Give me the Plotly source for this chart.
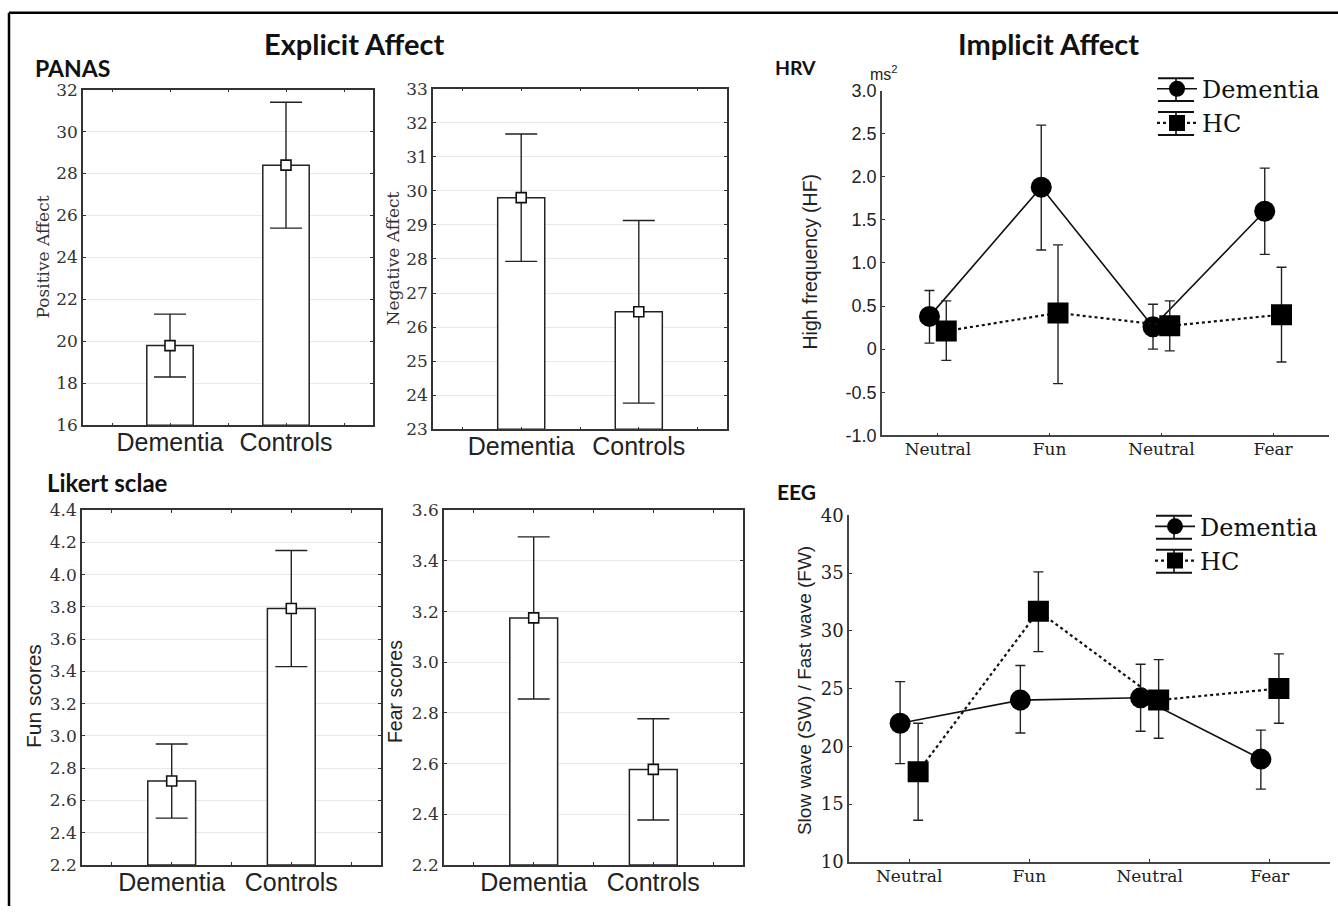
import plotly.graph_objects as go

W, H = 1338, 916
# the renderer places the figure with a small vertical offset/scale; compensate
YOFF, YSC = 10.3, 0.978

# ---------------- data ----------------
groups = ["Dementia", "Controls"]

panas_pos_mean = [19.8, 28.4]
panas_pos_err = [1.5, 3.0]
panas_neg_mean = [29.8, 26.45]
panas_neg_err = [1.87, 2.68]

likert_fun_mean = [2.72, 3.79]
likert_fun_err = [0.23, 0.36]
likert_fear_mean = [3.175, 2.577]
likert_fear_err = [0.32, 0.20]

conditions = ["Neutral", "Fun", "Neutral", "Fear"]
series = ["Dementia", "HC"]

hrv_dem = [0.38, 1.88, 0.26, 1.60]
hrv_dem_hi = [0.68, 2.60, 0.52, 2.10]
hrv_dem_lo = [0.07, 1.15, 0.00, 1.10]
hrv_hc = [0.21, 0.42, 0.27, 0.40]
hrv_hc_hi = [0.56, 1.21, 0.56, 0.95]
hrv_hc_lo = [-0.13, -0.40, -0.02, -0.15]

eeg_dem = [22.0, 24.0, 24.2, 18.9]
eeg_dem_hi = [25.6, 27.0, 27.1, 21.4]
eeg_dem_lo = [18.5, 21.15, 21.3, 16.3]
eeg_hc = [17.8, 31.7, 24.0, 25.0]
eeg_hc_hi = [22.0, 35.1, 27.5, 28.0]
eeg_hc_lo = [13.6, 28.2, 20.7, 22.0]

# ---------------- helpers ----------------
SERIF = "DejaVu Serif"
SANS = "Liberation Sans"
TITLE = "Lato"


def px_x(x):
    return x / W


def px_y(y):
    return 1 - ((y - YOFF) / YSC) / H


fig = go.Figure()

bar_panels = [
    # axis id, means, errs, yrange, dtick, box px (x0,x1,ytop,ybottom)
    ("", panas_pos_mean, panas_pos_err, [16, 32], 2, (83, 373, 89, 425)),
    ("2", panas_neg_mean, panas_neg_err, [23, 33], 1, (433, 727, 88, 429)),
    ("3", likert_fun_mean, likert_fun_err, [2.2, 4.4], 0.2, (82, 381, 510, 865)),
    ("4", likert_fear_mean, likert_fear_err, [2.2, 3.6], 0.2, (444, 743, 510, 865)),
]

xpos = list(range(len(groups)))

for ax, means, errs, yr, dt, box in bar_panels:
    xa, ya = "x" + ax, "y" + ax
    fig.add_trace(go.Bar(
        x=xpos, y=[m - yr[0] for m in means], base=yr[0], width=0.4,
        marker=dict(color="white", line=dict(color="#222", width=1.5)),
        xaxis=xa, yaxis=ya, showlegend=False, hoverinfo="skip"))
    fig.add_trace(go.Scatter(
        x=xpos, y=means, mode="markers",
        marker=dict(symbol="square", size=10, color="white",
                    line=dict(color="#111", width=1.6)),
        error_y=dict(type="data", array=errs, color="#222", thickness=1.4, width=16),
        xaxis=xa, yaxis=ya, showlegend=False))
    x0, x1, yt, yb = box
    fig.layout["xaxis" + ax] = dict(
        domain=[px_x(x0), px_x(x1)], anchor=ya, range=[-0.75, 1.75],
        tickvals=xpos, ticktext=groups, ticks="inside", ticklen=3, tickcolor="#333",
        minor=dict(tickvals=[-0.5, 0.5, 1.5], ticks="inside", ticklen=3, tickcolor="#333"),
        showline=True, linecolor="#333", linewidth=1.5, mirror="ticks",
        showgrid=False, zeroline=False, ticklabelstandoff=-6,
        tickfont=dict(family=SANS, size=25, color="#222"), fixedrange=True)
    fig.layout["yaxis" + ax] = dict(
        domain=[px_y(yb), px_y(yt)], anchor=xa, range=yr, dtick=dt,
        tickformat=".1f" if dt < 1 else "d",
        ticks="inside", ticklen=3, tickcolor="#333",
        showline=True, linecolor="#333", linewidth=1.5, mirror="ticks",
        showgrid=True, gridcolor="#e9e9e9", gridwidth=1, zeroline=False,
        tickfont=dict(family=SERIF, size=17, color="#333"), fixedrange=True)

# ---------------- line panels ----------------
cpos = list(range(len(conditions)))
off = 0.075

line_panels = [
    ("5", "legend", hrv_dem, hrv_dem_hi, hrv_dem_lo, hrv_hc, hrv_hc_hi, hrv_hc_lo,
     [-1, 3], 0.5, (882, 1329, 90, 435), SANS),
    ("6", "legend2", eeg_dem, eeg_dem_hi, eeg_dem_lo, eeg_hc, eeg_hc_hi, eeg_hc_lo,
     [10, 40], 5, (849, 1330, 515, 862), SERIF),
]

for ax, leg, dm, dhi, dlo, hm, hhi, hlo, yr, dt, box, yfont in line_panels:
    xa, ya = "x" + ax, "y" + ax
    for name, m, hi, lo, sym, dash, sgn in [
        (series[0], dm, dhi, dlo, "circle", "solid", -1),
        (series[1], hm, hhi, hlo, "square", "dot", 1),
    ]:
        fig.add_trace(go.Scatter(
            x=[c + sgn * off for c in cpos], y=m, mode="lines+markers", name=name,
            line=dict(color="#111", width=1.6 if dash == "solid" else 2.2, dash=dash),
            marker=dict(symbol=sym, size=21, color="black"),
            error_y=dict(type="data", symmetric=False,
                         array=[h - v for h, v in zip(hi, m)],
                         arrayminus=[v - l for v, l in zip(m, lo)],
                         color="#222", thickness=1.4, width=5),
            xaxis=xa, yaxis=ya, legend=leg))
    x0, x1, yt, yb = box
    fig.layout["xaxis" + ax] = dict(
        domain=[px_x(x0), px_x(x1)], anchor=ya, range=[-0.5, 3.5],
        tickvals=cpos, ticktext=conditions, ticks="inside", ticklen=3, tickcolor="#333",
        showline=True, linecolor="#444", linewidth=1.5, showgrid=False, zeroline=False,
        ticklabelstandoff=-2,
        tickfont=dict(family=SERIF, size=17, color="#222"), fixedrange=True)
    ydict = dict(
        domain=[px_y(yb), px_y(yt)], anchor=xa, range=yr, dtick=dt,
        ticks="inside", ticklen=3, tickcolor="#333",
        showline=True, linecolor="#444", linewidth=1.5, showgrid=False, zeroline=False,
        tickfont=dict(family=yfont, size=18, color="#222"), fixedrange=True)
    if ax == "5":
        ydict.update(tickvals=[-1, -0.5, 0, 0.5, 1, 1.5, 2, 2.5, 3],
                     ticktext=["-1.0", "-0.5", "0", "0.5", "1.0", "1.5", "2.0", "2.5", "3.0"])
    fig.layout["yaxis" + ax] = ydict

legend_common = dict(font=dict(family=SERIF, size=24, color="#111"),
                     bgcolor="rgba(0,0,0,0)", xanchor="left", yanchor="top",
                     tracegroupgap=0, itemwidth=40)
fig.update_layout(
    legend=dict(x=px_x(1152), y=px_y(66), **legend_common),
    legend2=dict(x=px_x(1150), y=px_y(504), **legend_common),
)

# ---------------- text ----------------
ann = []


def text(t, x, y, size, family, bold=False, angle=0, color="#111", xanchor="center"):
    ann.append(dict(text=("<b>%s</b>" % t) if bold else t, x=px_x(x), y=px_y(y),
                    xref="paper", yref="paper", showarrow=False, textangle=angle,
                    xanchor=xanchor, yanchor="middle",
                    font=dict(family=family, size=size, color=color)))


text("Explicit Affect", 354, 43, 29, TITLE, bold=True)
text("Implicit Affect", 1048, 43, 29, TITLE, bold=True)
text("PANAS", 33, 67, 23, TITLE, bold=True, xanchor="left")
text("HRV", 773, 67, 19.5, TITLE, bold=True, xanchor="left")
text("Likert sclae", 45, 482, 24, TITLE, bold=True, xanchor="left")
text("EEG", 775, 491, 21, TITLE, bold=True, xanchor="left")
text("ms<sup>2</sup>", 884, 72, 16, SANS, color="#222")

text("Positive Affect", 43, 257, 17, SERIF, angle=-90, color="#333")
text("Negative Affect", 393, 258, 17, SERIF, angle=-90, color="#333")
text("Fun scores", 33, 696, 21, SANS, angle=-90, color="#222")
text("Fear scores", 395, 692, 19.5, SANS, angle=-90, color="#222")
text("High frequency (HF)", 810, 261, 19.5, SANS, angle=-90, color="#222")
text("Slow wave (SW) / Fast wave (FW)", 804, 691, 19, SANS, angle=-90, color="#222")

# frame lines (top and left) of the figure panel
shapes = [
    dict(type="line", xref="paper", yref="paper", x0=px_x(9), x1=1, y0=px_y(12), y1=px_y(12),
         line=dict(color="black", width=2.5)),
    dict(type="line", xref="paper", yref="paper", x0=px_x(9), x1=px_x(9), y0=px_y(12), y1=0,
         line=dict(color="black", width=2.5)),
]

# error-bar adornment of the legend keys (caps + stem), as in the original legend glyph
legend_keys = [(1176, 89), (1176, 123), (1174, 527), (1174, 561)]
cap_half_w, cap_half_h = 18, 11.5
for kx, ky in legend_keys:
    for dy in (-cap_half_h, cap_half_h):
        shapes.append(dict(type="line", xref="paper", yref="paper",
                           x0=px_x(kx - cap_half_w), x1=px_x(kx + cap_half_w),
                           y0=px_y(ky + dy), y1=px_y(ky + dy),
                           line=dict(color="#111", width=2)))
    shapes.append(dict(type="line", xref="paper", yref="paper",
                       x0=px_x(kx), x1=px_x(kx),
                       y0=px_y(ky - cap_half_h), y1=px_y(ky + cap_half_h),
                       line=dict(color="#111", width=1.6)))

fig.update_layout(
    annotations=ann,
    width=W, height=H, margin=dict(l=0, r=0, t=0, b=0),
    paper_bgcolor="white", plot_bgcolor="white",
    barmode="overlay",
    shapes=shapes,
)

fig.write_html(
    "out.html",
    config={"displayModeBar": False},
    post_script="document.body.style.margin='0';document.body.style.overflow='hidden';",
)
